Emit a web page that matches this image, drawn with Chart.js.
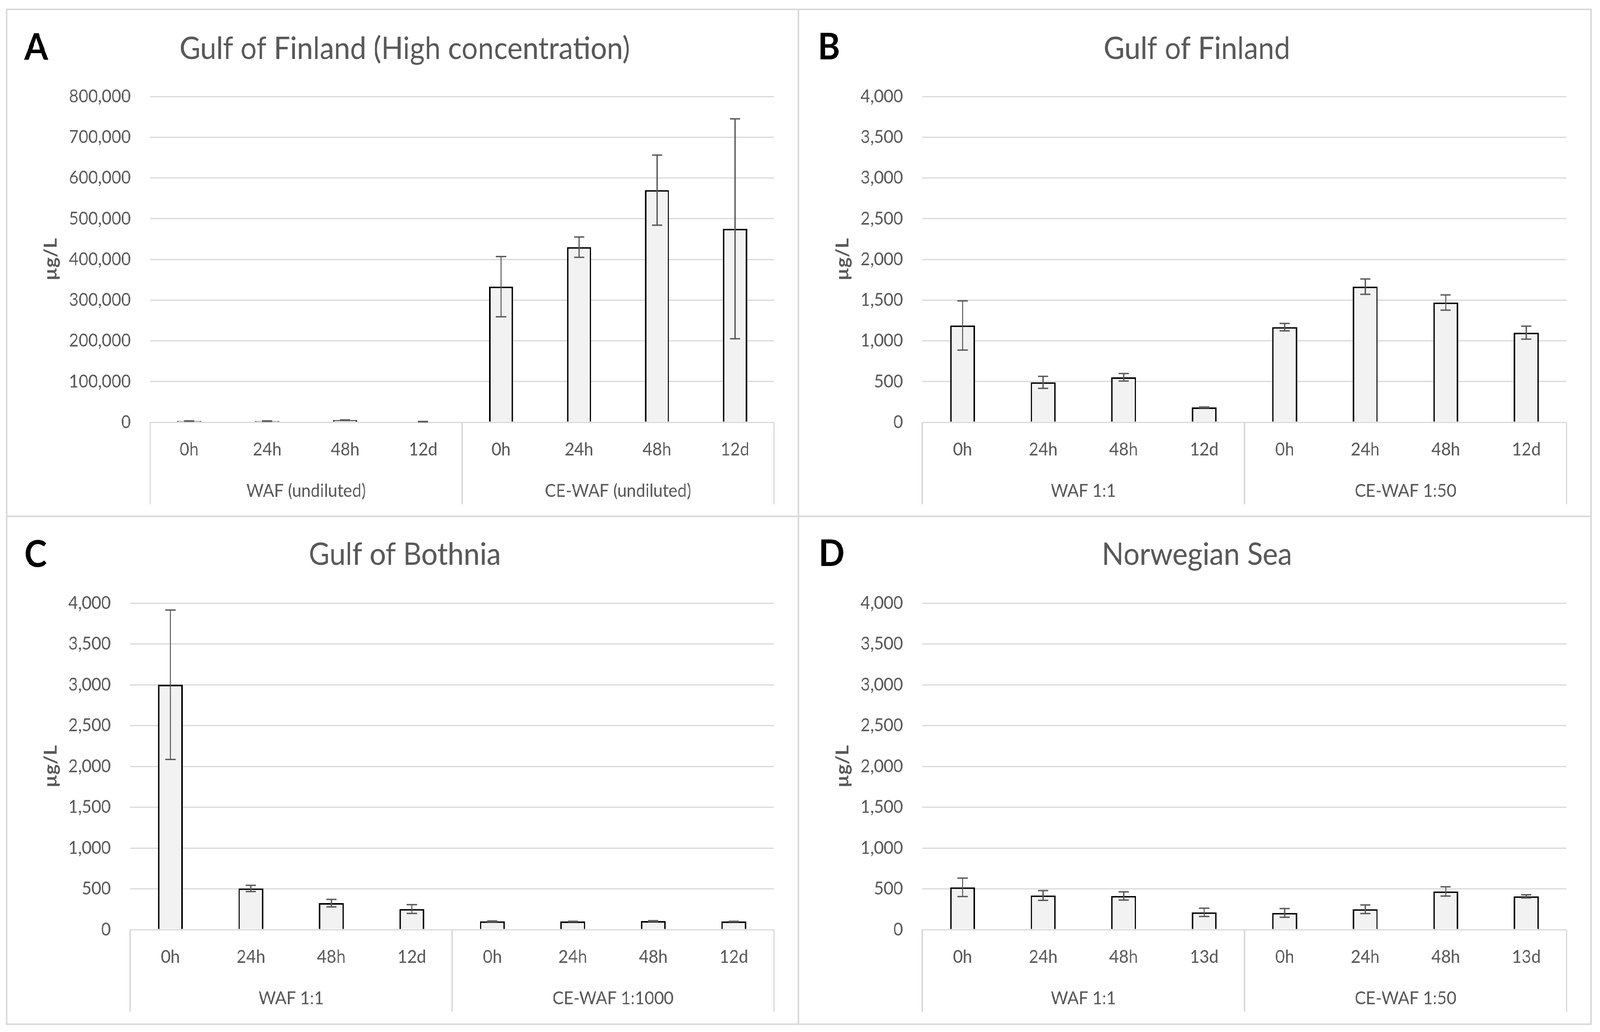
<!DOCTYPE html>
<html>
    <head>
        <meta charset="utf-8">
        <script src="https://cdn.jsdelivr.net/npm/chart.js@4.4.0/dist/chart.umd.min.js"></script>
        <style>
            html, body { margin: 0; background: #fff; overflow: hidden; }
            #stage { position: absolute; left: 0; top: 0; width: 4401px; height: 2642px; transform-origin: 0 0; }
            canvas { position: absolute; }
            .line { position: absolute; background: #d9d9d9; }
        </style>
    </head>
    <body>
        <div id="stage">
            <canvas id="chartA" width="2178" height="1298" style="left:18px; top:24px;"></canvas>
            <canvas id="chartB" width="2180" height="1298" style="left:2196px; top:24px;"></canvas>
            <canvas id="chartC" width="2178" height="1300" style="left:18px; top:1322px;"></canvas>
            <canvas id="chartD" width="2180" height="1300" style="left:2196px; top:1322px;"></canvas>

            <div class="line" style="left:16px; top:22px; width:4362px; height:4px"></div>
            <div class="line" style="left:16px; top:2620px; width:4362px; height:4px"></div>
            <div class="line" style="left:16px; top:22px; width:4px; height:2602px"></div>
            <div class="line" style="left:4374px; top:22px; width:4px; height:2602px"></div>
            <div class="line" style="left:2194px; top:22px; width:4px; height:2602px"></div>
            <div class="line" style="left:16px; top:1320px; width:4362px; height:4px"></div>
        </div>

        <script>
            // category labels
            const timesABC = ["0h", "24h", "48h", "12d", "0h", "24h", "48h", "12d"];
            const timesD = ["0h", "24h", "48h", "13d", "0h", "24h", "48h", "13d"];
            const groupsA = ["WAF (undiluted)", "CE-WAF (undiluted)"];
            const groupsB = ["WAF 1:1", "CE-WAF 1:50"];
            const groupsC = ["WAF 1:1", "CE-WAF 1:1000"];
            const groupsD = ["WAF 1:1", "CE-WAF 1:50"];

            // means and error bars (µg/L)
            const valuesA = [3000, 2900, 5000, 1500, 333000, 430000, 570000, 475000];
            const errorsA = [400, 400, 700, 300, 74000, 25000, 86000, 270000];
            const valuesB = [1188, 490, 552, 182, 1168, 1665, 1470, 1100];
            const errorsB = [302, 74, 46, 5, 46, 94, 93, 80];
            const valuesC = [3000, 505, 325, 252, 102, 100, 105, 100];
            const errorsC = [915, 38, 46, 54, 5, 3, 5, 3];
            const valuesD = [518, 419, 413, 212, 205, 250, 468, 408];
            const errorsD = [113, 60, 50, 51, 53, 53, 57, 19];

            const gray = "#595959";
            const gridGray = "#d9d9d9";
            const fontName = "Lato";

            // the page is laid out at 4401x2642, stretched onto whatever window we get
            const stage = document.getElementById("stage");
            const sx = window.innerWidth / 4401;
            const sy = window.innerHeight / 2642;
            stage.style.transform = "scale(" + sx + "," + sy + ")";

            Chart.defaults.font.family = fontName;
            Chart.defaults.color = gray;

            const errorBars = {
                id: "errorBars",
                afterDatasetsDraw(chart) {
                    const ctx = chart.ctx;
                    const y = chart.scales.y;
                    const ds = chart.data.datasets[0];
                    ctx.save();
                    ctx.strokeStyle = gray;
                    ctx.lineWidth = 3.5;
                    chart.getDatasetMeta(0).data.forEach(function (bar, i) {
                        const top = y.getPixelForValue(ds.data[i] + ds.errors[i]);
                        const bot = y.getPixelForValue(Math.max(ds.data[i] - ds.errors[i], 0));
                        ctx.beginPath();
                        ctx.moveTo(bar.x, top); ctx.lineTo(bar.x, bot);
                        ctx.moveTo(bar.x - 14, top); ctx.lineTo(bar.x + 14, top);
                        ctx.moveTo(bar.x - 14, bot); ctx.lineTo(bar.x + 14, bot);
                        ctx.stroke();
                    });
                    ctx.restore();
                }
            };

            // second axis row (group names + separators) and the panel letter
            const groupAxis = {
                id: "groupAxis",
                afterDraw(chart, args, opts) {
                    const a = chart.chartArea;
                    const x = chart.scales.x;
                    const ctx = chart.ctx;
                    const half = chart.data.labels.length / 2;
                    const mid = (x.getPixelForValue(half - 1) + x.getPixelForValue(half)) / 2;
                    ctx.save();
                    ctx.strokeStyle = gridGray;
                    ctx.lineWidth = 4;
                    [a.left, mid, a.right].forEach(function (px) {
                        ctx.beginPath();
                        ctx.moveTo(px, a.bottom);
                        ctx.lineTo(px, a.bottom + 210);
                        ctx.stroke();
                    });
                    ctx.fillStyle = gray;
                    ctx.font = "46px " + fontName;
                    ctx.textAlign = "center";
                    ctx.textBaseline = "middle";
                    ctx.fillText(opts.groups[0], (a.left + mid) / 2, a.bottom + 176);
                    ctx.fillText(opts.groups[1], (mid + a.right) / 2, a.bottom + 176);
                    ctx.fillStyle = "#000";
                    ctx.font = "bold 94px " + fontName;
                    ctx.textAlign = "left";
                    ctx.textBaseline = "alphabetic";
                    ctx.fillText(opts.letter, opts.letterX, opts.letterY);
                    ctx.restore();
                }
            };

            function makePanel(id, p) {
                const canvas = document.getElementById(id);
                const w = canvas.width, h = canvas.height;
                const padLeft = 80;
                const titleSize = 79;
                const titleHalf = titleSize * 1.2 / 2;
                return new Chart(canvas.getContext("2d"), {
                    type: "bar",
                    data: {
                        labels: p.labels,
                        datasets: [{
                            data: p.values,
                            errors: p.errors,
                            backgroundColor: "#f2f2f2",
                            borderColor: "#000",
                            borderWidth: 4,
                            categoryPercentage: 1,
                            barPercentage: 0.31
                        }]
                    },
                    options: {
                        responsive: false,
                        devicePixelRatio: 1,
                        animation: false,
                        layout: { padding: { left: padLeft, right: w - p.right, top: 0, bottom: h - p.bottom - 210 } },
                        plugins: {
                            legend: { display: false },
                            tooltip: { enabled: false },
                            title: {
                                display: true,
                                text: p.title,
                                color: gray,
                                font: { size: titleSize, weight: "normal" },
                                padding: { top: p.titleY - titleHalf, bottom: p.top - p.titleY - titleHalf }
                            },
                            groupAxis: { groups: p.groups, letter: p.letter, letterX: p.letterX, letterY: p.letterY }
                        },
                        scales: {
                            x: {
                                grid: { display: false, drawTicks: false },
                                border: { display: false },
                                ticks: { font: { size: 46 }, padding: 43, maxRotation: 0, autoSkip: false },
                                afterFit: function (s) { s.height = 210; }
                            },
                            y: {
                                min: 0,
                                max: p.max,
                                ticks: {
                                    stepSize: p.step,
                                    font: { size: 46 },
                                    padding: 53,
                                    callback: function (v) { return v.toLocaleString("en-US"); }
                                },
                                grid: { color: gridGray, lineWidth: 3, drawTicks: false },
                                border: { display: false },
                                title: {
                                    display: true,
                                    text: "µg/L",
                                    color: gray,
                                    font: { size: 50, weight: "bold" },
                                    padding: { top: 12, bottom: 0 }
                                },
                                afterFit: function (s) { s.width = p.left - padLeft; }
                            }
                        }
                    },
                    plugins: [errorBars, groupAxis]
                });
            }

            makePanel("chartA", {
                labels: timesABC, values: valuesA, errors: errorsA, groups: groupsA,
                title: "Gulf of Finland (High concentration)", letter: "A",
                max: 800000, step: 100000,
                left: 395, right: 2111, top: 223, bottom: 1057, titleY: 102, letterX: 49, letterY: 129
            });
            makePanel("chartB", {
                labels: timesABC, values: valuesB, errors: errorsB, groups: groupsB,
                title: "Gulf of Finland", letter: "B",
                max: 4000, step: 500,
                left: 341, right: 2113, top: 223, bottom: 1057, titleY: 102, letterX: 53, letterY: 128
            });
            makePanel("chartC", {
                labels: timesABC, values: valuesC, errors: errorsC, groups: groupsC,
                title: "Gulf of Bothnia", letter: "C",
                max: 4000, step: 500,
                left: 340, right: 2111, top: 222, bottom: 1058, titleY: 99, letterX: 49, letterY: 129
            });
            makePanel("chartD", {
                labels: timesD, values: valuesD, errors: errorsD, groups: groupsD,
                title: "Norwegian Sea", letter: "D",
                max: 4000, step: 500,
                left: 341, right: 2113, top: 222, bottom: 1058, titleY: 99, letterX: 56, letterY: 127
            });
        </script>
    </body>
</html>
